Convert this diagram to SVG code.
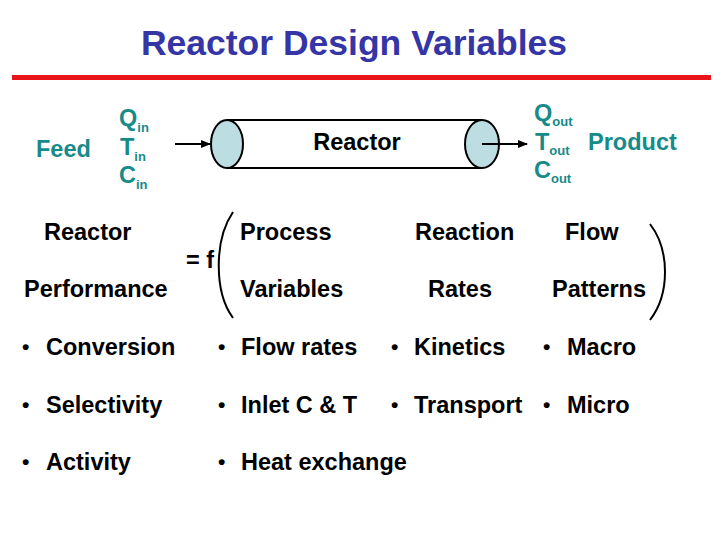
<svg xmlns="http://www.w3.org/2000/svg" width="720" height="540" viewBox="0 0 720 540">
<defs>
<style>
text{font-family:"Liberation Sans",Arial,sans-serif;font-weight:bold}
.t{fill:#3535a6;font-size:35.5px}
.teal{fill:#178a8a;font-size:23.5px}
.sub{font-size:13px}
.b{fill:#000;font-size:23.5px}
.dot{font-size:21px}
.ln{stroke:#000;stroke-width:2;fill:none}
.end{fill:#bcdde2;stroke:#000;stroke-width:2}
</style>
<marker id="ah" markerWidth="10" markerHeight="8" refX="9" refY="4" orient="auto" markerUnits="userSpaceOnUse">
<path d="M0,0 L10,4 L0,8 Z" fill="#000"/>
</marker>
</defs>
<rect width="720" height="540" fill="#fff"/>
<text class="t" x="354" y="55" text-anchor="middle">Reactor Design Variables</text>
<rect x="12" y="75" width="699" height="5" fill="#e8141a"/>

<g id="feed">
<text class="teal" x="36" y="157">Feed</text>
<text class="teal" x="119" y="126">Q<tspan class="sub" dy="6">in</tspan></text>
<text class="teal" x="120" y="155">T<tspan class="sub" dy="6">in</tspan></text>
<text class="teal" x="119" y="183">C<tspan class="sub" dy="6">in</tspan></text>
</g>

<g id="reactor">
<rect x="227" y="120" width="255" height="48" fill="#fff"/>
<line class="ln" x1="227" y1="120" x2="482" y2="120"/>
<line class="ln" x1="227" y1="168" x2="482" y2="168"/>
<ellipse class="end" cx="227" cy="144" rx="16" ry="24"/>
<ellipse class="end" cx="482" cy="144" rx="17" ry="24"/>
<text class="b" x="357" y="150" text-anchor="middle">Reactor</text>
</g>

<g id="product">
<text class="teal" x="534" y="121">Q<tspan class="sub" dy="5">out</tspan></text>
<text class="teal" x="535" y="150">T<tspan class="sub" dy="5">out</tspan></text>
<text class="teal" x="534" y="178">C<tspan class="sub" dy="5">out</tspan></text>
<text class="teal" x="588" y="150">Product</text>
</g>

<g id="connectors">
<line class="ln" x1="175" y1="144" x2="210" y2="144" marker-end="url(#ah)"/>
<line class="ln" x1="482" y1="144" x2="527" y2="144" marker-end="url(#ah)"/>
</g>

<g id="equation">
<text class="b" x="44" y="240">Reactor</text>
<text class="b" x="24" y="297">Performance</text>
<text class="b" x="186" y="268">= f</text>
<path class="ln" d="M233,212 C214,240 214,292 233,318"/>
<text class="b" x="240" y="240">Process</text>
<text class="b" x="240" y="297">Variables</text>
<text class="b" x="415" y="240">Reaction</text>
<text class="b" x="428" y="297">Rates</text>
<text class="b" x="565" y="240">Flow</text>
<text class="b" x="552" y="297">Patterns</text>
<path class="ln" d="M650,224 C670,250 670,294 650,320"/>
</g>

<g id="bullets">
<text class="b" x="22" y="354"><tspan class="dot">•</tspan><tspan x="46" y="355">Conversion</tspan></text>
<text class="b" x="22" y="412"><tspan class="dot">•</tspan><tspan x="46" y="413">Selectivity</tspan></text>
<text class="b" x="22" y="469"><tspan class="dot">•</tspan><tspan x="46" y="470">Activity</tspan></text>
<text class="b" x="218" y="354"><tspan class="dot">•</tspan><tspan x="241" y="355">Flow rates</tspan></text>
<text class="b" x="218" y="412"><tspan class="dot">•</tspan><tspan x="241" y="413">Inlet C &amp; T</tspan></text>
<text class="b" x="218" y="469"><tspan class="dot">•</tspan><tspan x="241" y="470">Heat exchange</tspan></text>
<text class="b" x="391" y="354"><tspan class="dot">•</tspan><tspan x="414" y="355">Kinetics</tspan></text>
<text class="b" x="391" y="412"><tspan class="dot">•</tspan><tspan x="414" y="413">Transport</tspan></text>
<text class="b" x="543" y="354"><tspan class="dot">•</tspan><tspan x="567" y="355">Macro</tspan></text>
<text class="b" x="543" y="412"><tspan class="dot">•</tspan><tspan x="567" y="413">Micro</tspan></text>
</g>
</svg>
